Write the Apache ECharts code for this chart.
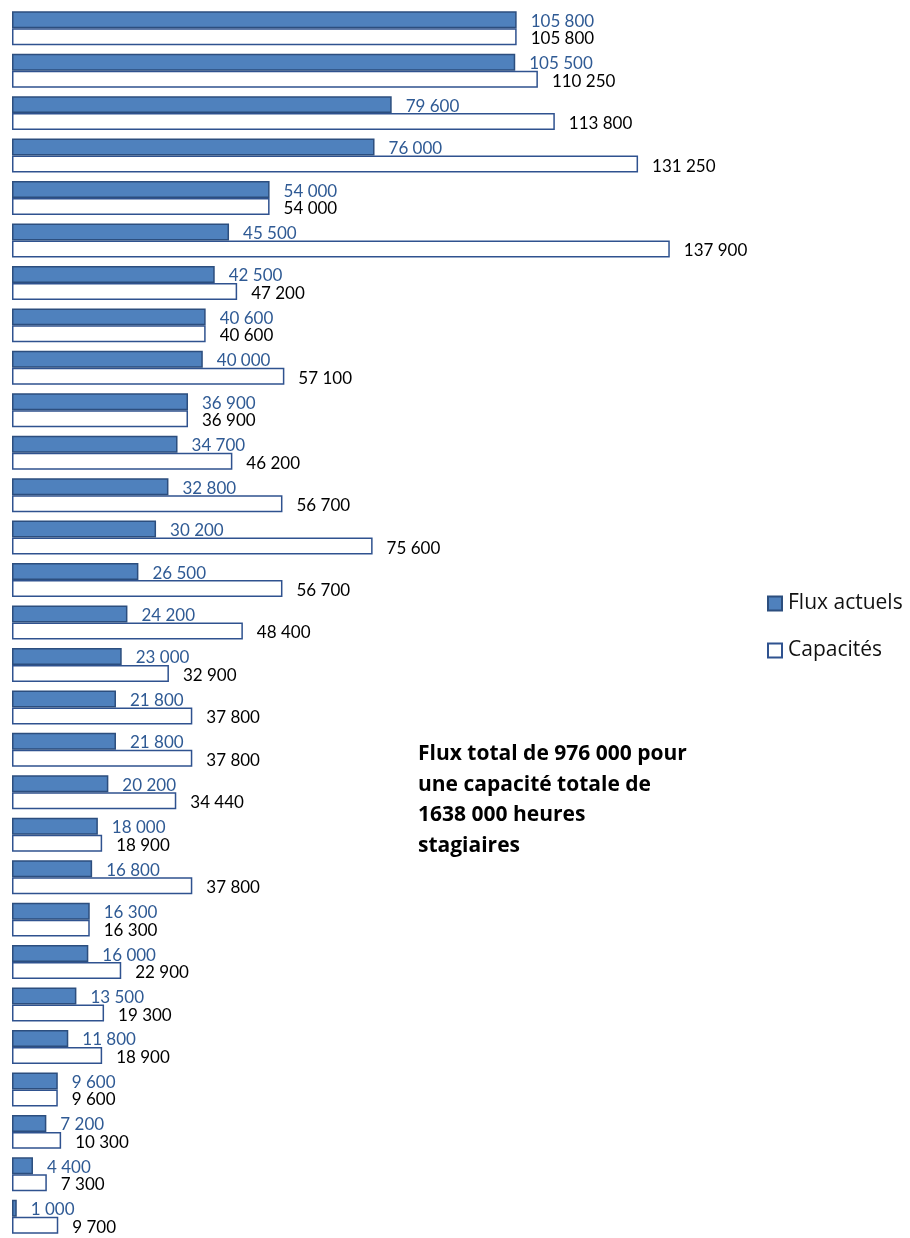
<!DOCTYPE html>
<html>
<head>
<meta charset="utf-8">
<script src="https://cdn.jsdelivr.net/npm/echarts@6/dist/echarts.min.js"></script>
<style>html,body{margin:0;padding:0;background:#fff;}#c{width:910px;height:1238px;}</style>
</head>
<body>
<div id="c"></div>
<script>
const categories = ['1','2','3','4','5','6','7','8','9','10','11','12','13','14','15','16','17','18','19','20','21','22','23','24','25','26','27','28','29'];
const fluxActuels = [105800,105500,79600,76000,54000,45500,42500,40600,40000,36900,34700,32800,30200,26500,24200,23000,21800,21800,20200,18000,16800,16300,16000,13500,11800,9600,7200,4400,1000];
const capacites = [105800,110250,113800,131250,54000,137900,47200,40600,57100,36900,46200,56700,75600,56700,48400,32900,37800,37800,34440,18900,37800,16300,22900,19300,18900,9600,10300,7300,9700];
const seriesNames = ['Flux actuels','Capacités'];
const noteLines = ['Flux total de 976 000 pour','une capacité totale de','1638 000 heures','stagiaires'];

const fmt = v => String(v).replace(/\B(?=(\d{3})+(?!\d))/g, ' ');
const chart = echarts.init(document.getElementById('c'));
const FONT = 'Lato, "Open Sans", sans-serif';
const FONT2 = '"Open Sans", Lato, sans-serif';
chart.setOption({
  animation: false,
  backgroundColor: '#fff',
  grid: {left: 12, top: 7, width: 858.6, height: 1238},
  xAxis: {type: 'value', min: 0, max: 180000, show: false},
  yAxis: {type: 'category', data: categories, inverse: true, show: false},
  legend: {
    orient: 'vertical', left: 767, top: 591, padding: 0,
    itemWidth: 14, itemHeight: 14, itemGap: 22,
    icon: 'rect',
    textStyle: {fontFamily: FONT2, fontSize: 21, color: '#111', lineHeight: 25, padding: [0, 0, 0, 1]},
    data: seriesNames
  },
  series: [
    {
      name: seriesNames[0], type: 'bar', data: fluxActuels,
      barCategoryGap: '20%', barGap: '0%',
      itemStyle: {color: '#4F81BD', borderColor: '#2C4E7E', borderWidth: 1.5},
      label: {show: true, position: 'right', distance: 14, offset: [0, 1.5],
        formatter: p => fmt(p.value), fontFamily: FONT, fontSize: 17, color: '#2F5A94'},
      z: 3
    },
    {
      name: seriesNames[1], type: 'bar', data: capacites,
      barCategoryGap: '20%', barGap: '0%',
      itemStyle: {color: '#FFFFFF', borderColor: '#2F528F', borderWidth: 1.5},
      label: {show: true, position: 'right', distance: 14, offset: [0, 2],
        formatter: p => fmt(p.value), fontFamily: FONT, fontSize: 17, color: '#000'},
      z: 2
    }
  ],
  graphic: [{
    type: 'text', left: 418, top: 739,
    style: {text: noteLines.join('\n'), fontFamily: FONT2, fontWeight: 'bold', fontSize: 21, lineHeight: 30.5, fill: '#000'}
  }]
});
</script>
</body>
</html>
